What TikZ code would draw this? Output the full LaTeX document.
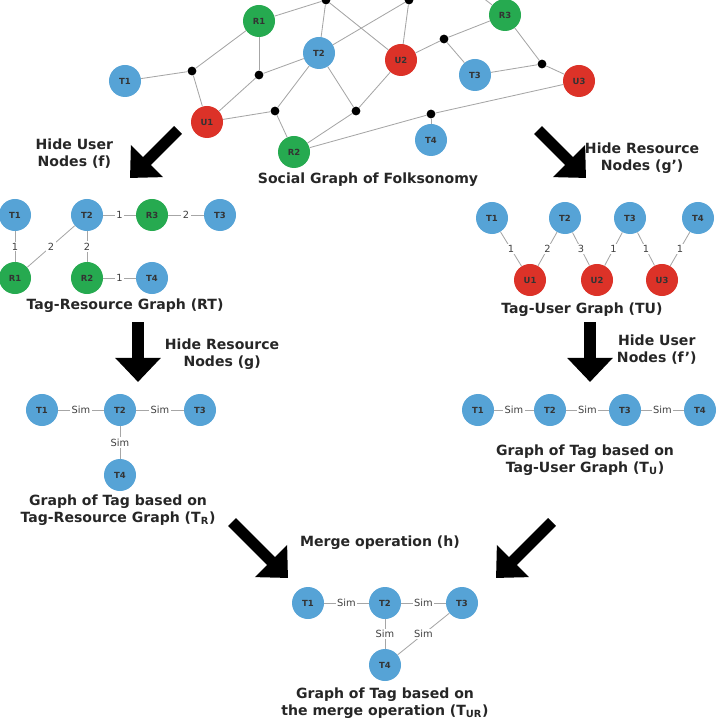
\documentclass[tikz,border=0pt]{standalone}
\usepackage{fontspec}
\setmainfont{DejaVu Sans}
\usetikzlibrary{arrows.meta}
\definecolor{tagblue}{RGB}{86,163,214}
\definecolor{resgreen}{RGB}{38,170,80}
\definecolor{usered}{RGB}{220,50,40}
\tikzset{
  vtx/.style={circle, minimum size=0.8cm, inner sep=0pt, font=\fontsize{6}{7}\selectfont\bfseries, text=black!80},
  tag/.style={vtx, fill=tagblue},
  res/.style={vtx, fill=resgreen},
  usr/.style={vtx, fill=usered},
  dot/.style={circle, fill=black, inner sep=0pt, minimum size=0.22cm},
  edge/.style={draw=black!35, line width=0.6pt},
  wlab/.style={fill=white, inner sep=1pt, font=\fontsize{7}{8}\selectfont, text=black!75},
  big/.style={line width=8pt, -{Triangle[length=0.6cm, width=1.1cm]}},
  caption/.style={font=\fontsize{10}{12}\selectfont\bfseries, align=center, text=black!85}
}
\begin{document}
\begin{tikzpicture}[x=0.025cm, y=-0.025cm]
    \useasboundingbox (0,0) rectangle (720,720);

    % Social graph of folksonomy
    \coordinate (o1) at (340,-20);
    \coordinate (o2) at (460,-20);
    \node[dot] (d1) at (192,71) {};
    \node[dot] (d2) at (259,75) {};
    \node[dot] (d3) at (275,111) {};
    \node[dot] (d4) at (356,111) {};
    \node[dot] (d5) at (444,39) {};
    \node[dot] (d6) at (542,64) {};
    \node[dot] (d7) at (431,114) {};
    \node[dot] (d8) at (326,0) {};
    \node[dot] (d9) at (409,0) {};
    \node[res] (sR1) at (259,21) {R1};
    \node[tag] (sT1) at (125,81) {T1};
    \node[tag] (sT2) at (319,53) {T2};
    \node[usr] (sU2) at (401,60) {U2};
    \node[res] (sR3) at (505,15) {R3};
    \node[tag] (sT3) at (475,75) {T3};
    \node[usr] (sU3) at (579,81) {U3};
    \node[usr] (sU1) at (207,122) {U1};
    \node[res] (sR2) at (294,152) {R2};
    \node[tag] (sT4) at (431,140) {T4};
    \foreach \a/\b in {sT1/d1, d1/sR1, d1/sU1, sR1/d2, sU1/d2, d2/sT2, sU1/d3, d3/sT2, d3/sR2,
        sT2/d4, sU2/d4, d4/sR2, sU2/d5, d5/sR3, d5/sT3, sR3/d6, sT3/d6, d6/sU3,
        sR2/d7, d7/sT4, d7/sU3, sR1/d8, sT2/d8, d8/sU2, sT2/d9, d9/sU2, d8/o1, d9/o2, o2/sR3}
        \draw[edge] (\a) -- (\b);
    \node[caption] (cap0) at (368,180) {Social Graph of Folksonomy};

    % Hide arrows from the top
    \draw[big] (178,130) -- (130,178);
    \node[caption, anchor=east] (hU) at (118,154) {Hide User\\Nodes (f)};
    \draw[big] (538,130) -- (586,178);
    \node[caption, anchor=west] (hR) at (580,158) {Hide Resource\\Nodes (g')};

    % Tag-Resource graph
    \node[tag] (rT1) at (15,215) {T1};
    \node[tag] (rT2) at (87,215) {T2};
    \node[res] (rR3) at (152,215) {R3};
    \node[tag] (rT3) at (220,215) {T3};
    \node[res] (rR1) at (15,278) {R1};
    \node[res] (rR2) at (87,278) {R2};
    \node[tag] (rT4) at (152,278) {T4};
    \foreach \a/\b/\w in {rT2/rR3/1, rR3/rT3/2, rT1/rR1/1, rT2/rR1/2, rT2/rR2/2, rR2/rT4/1}
        \draw[edge] (\a) -- node[wlab] {\w} (\b);
    \node[caption] (cap1) at (125,306) {Tag-Resource Graph (RT)};

    % Tag-User graph
    \node[tag] (uT1) at (492,218) {T1};
    \node[tag] (uT2) at (565,218) {T2};
    \node[tag] (uT3) at (630,218) {T3};
    \node[tag] (uT4) at (698,218) {T4};
    \node[usr] (uU1) at (530,280) {U1};
    \node[usr] (uU2) at (597,280) {U2};
    \node[usr] (uU3) at (662,280) {U3};
    \foreach \a/\b/\w in {uT1/uU1/1, uT2/uU1/2, uT2/uU2/3, uT3/uU2/1, uT3/uU3/1, uT4/uU3/1}
        \draw[edge] (\a) -- node[wlab] {\w} (\b);
    \node[caption] (cap2) at (582,310) {Tag-User Graph (TU)};

    % Hide arrows, second step
    \draw[big] (138,322) -- (138,382);
    \node[caption, anchor=west] (hR2) at (160,354) {Hide Resource\\Nodes (g)};
    \draw[big] (590,322) -- (590,382);
    \node[caption, anchor=west] (hU2) at (612,350) {Hide User\\Nodes (f')};

    % Graph of tag (T_R)
    \node[tag] (aT1) at (42,410) {T1};
    \node[tag] (aT2) at (120,410) {T2};
    \node[tag] (aT3) at (200,410) {T3};
    \node[tag] (aT4) at (120,475) {T4};
    \foreach \a/\b in {aT1/aT2, aT2/aT3, aT2/aT4}
        \draw[edge] (\a) -- node[wlab] {Sim} (\b);
    \node[caption] (cap3) at (118,510) {Graph of Tag based on\\Tag-Resource Graph (T$_\mathbf{R}$)};

    % Graph of tag (T_U)
    \node[tag] (bT1) at (478,410) {T1};
    \node[tag] (bT2) at (550,410) {T2};
    \node[tag] (bT3) at (625,410) {T3};
    \node[tag] (bT4) at (700,410) {T4};
    \foreach \a/\b in {bT1/bT2, bT2/bT3, bT3/bT4}
        \draw[edge] (\a) -- node[wlab] {Sim} (\b);
    \node[caption] (cap4) at (585,460) {Graph of Tag based on\\Tag-User Graph (T$_\mathbf{U}$)};

    % Merge
    \draw[big] (232,522) -- (288,578);
    \draw[big] (552,522) -- (496,578);
    \node[caption] (mrg) at (380,543) {Merge operation (h)};

    % Merged graph
    \node[tag] (cT1) at (308,603) {T1};
    \node[tag] (cT2) at (385,603) {T2};
    \node[tag] (cT3) at (462,603) {T3};
    \node[tag] (cT4) at (385,665) {T4};
    \foreach \a/\b in {cT1/cT2, cT2/cT3, cT2/cT4, cT3/cT4}
        \draw[edge] (\a) -- node[wlab] {Sim} (\b);
    \node[caption] (cap5) at (385,703) {Graph of Tag based on\\the merge operation (T$_\mathbf{UR}$)};
\end{tikzpicture}
\end{document}
